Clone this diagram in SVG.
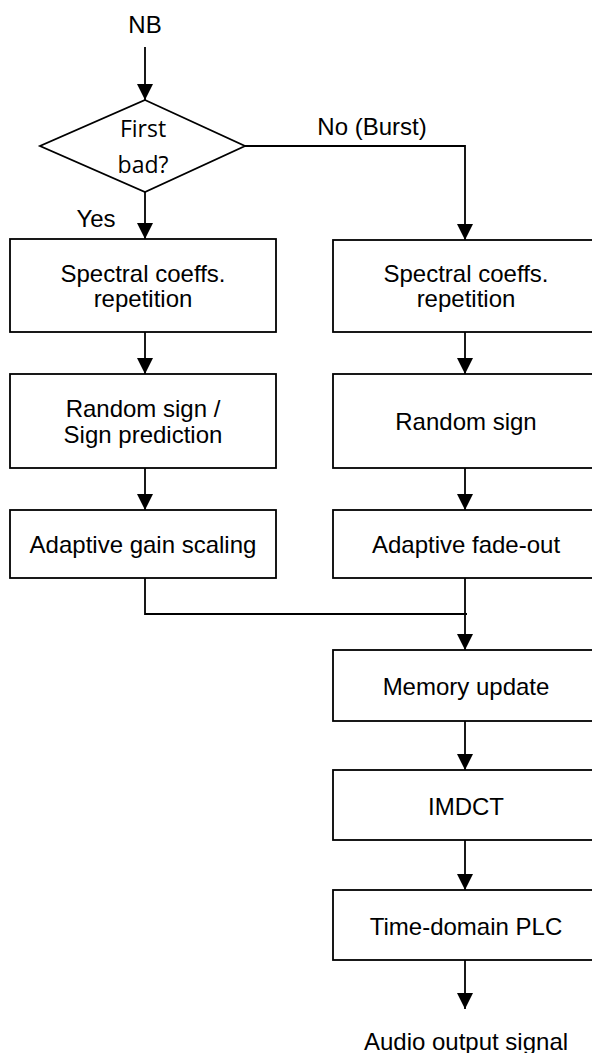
<svg xmlns="http://www.w3.org/2000/svg" width="592" height="1053" viewBox="0 0 592 1053">
<defs>
<style>
.box{fill:#fff;stroke:#000;stroke-width:1.8}
.t{font-family:"Liberation Sans",Arial,sans-serif;font-size:24px;fill:#000;text-anchor:middle}
.d{font-family:"Open Sans","Liberation Sans",sans-serif;font-size:23px;fill:#000;text-anchor:middle}
.c{fill:none;stroke:#000;stroke-width:1.8}
</style>
<marker id="ah" viewBox="0 0 16 16" markerWidth="16" markerHeight="16" refX="16" refY="8" orient="auto" markerUnits="userSpaceOnUse">
<path d="M0,0 L16,8 L0,16 z" fill="#000"/>
</marker>
</defs>
<rect width="592" height="1053" fill="#fff"/>
<g id="connectors">
<path class="c" d="M145,47 V100" marker-end="url(#ah)"/>
<path class="c" d="M145,192 V239" marker-end="url(#ah)"/>
<path class="c" d="M245,146 H465 V240" marker-end="url(#ah)"/>
<path class="c" d="M145,332 V374" marker-end="url(#ah)"/>
<path class="c" d="M145,468 V510" marker-end="url(#ah)"/>
<path class="c" d="M465,332 V374" marker-end="url(#ah)"/>
<path class="c" d="M465,468 V510" marker-end="url(#ah)"/>
<path class="c" d="M145,578 V614 H467"/>
<path class="c" d="M465,578 V650" marker-end="url(#ah)"/>
<path class="c" d="M465,721 V770" marker-end="url(#ah)"/>
<path class="c" d="M465,840 V890" marker-end="url(#ah)"/>
<path class="c" d="M465,960 V1009" marker-end="url(#ah)"/>
</g>
<g id="label-nb"><text class="t" x="145" y="33">NB</text></g>
<g id="decision">
<polygon class="box" points="145,100 245,146 145,192 40,146"/>
<text class="d" x="143" y="137">First</text>
<text class="d" x="143" y="173">bad?</text>
</g>
<g id="label-yes"><text class="t" x="96" y="227">Yes</text></g>
<g id="label-no"><text class="t" x="372" y="135">No (Burst)</text></g>
<g id="left-rep">
<rect class="box" x="10" y="239" width="266" height="93"/>
<text class="t" x="143" y="282">Spectral coeffs.</text>
<text class="t" x="143" y="307">repetition</text>
</g>
<g id="left-sign">
<rect class="box" x="10" y="374" width="266" height="94"/>
<text class="t" x="143" y="417">Random sign /</text>
<text class="t" x="143" y="443">Sign prediction</text>
</g>
<g id="left-gain">
<rect class="box" x="10" y="510" width="266" height="68"/>
<text class="t" x="143" y="553">Adaptive gain scaling</text>
</g>
<g id="right-rep">
<rect class="box" x="333" y="240" width="266" height="92"/>
<text class="t" x="466" y="282">Spectral coeffs.</text>
<text class="t" x="466" y="307">repetition</text>
</g>
<g id="right-sign">
<rect class="box" x="333" y="374" width="266" height="94"/>
<text class="t" x="466" y="430">Random sign</text>
</g>
<g id="right-fade">
<rect class="box" x="333" y="510" width="266" height="68"/>
<text class="t" x="466" y="553">Adaptive fade-out</text>
</g>
<g id="memory">
<rect class="box" x="333" y="650" width="266" height="71"/>
<text class="t" x="466" y="695">Memory update</text>
</g>
<g id="imdct">
<rect class="box" x="333" y="770" width="266" height="70"/>
<text class="t" x="466" y="815">IMDCT</text>
</g>
<g id="tdplc">
<rect class="box" x="333" y="890" width="266" height="70"/>
<text class="t" x="466" y="935">Time-domain PLC</text>
</g>
<g id="label-out"><text class="t" x="466" y="1050">Audio output signal</text></g>
</svg>
